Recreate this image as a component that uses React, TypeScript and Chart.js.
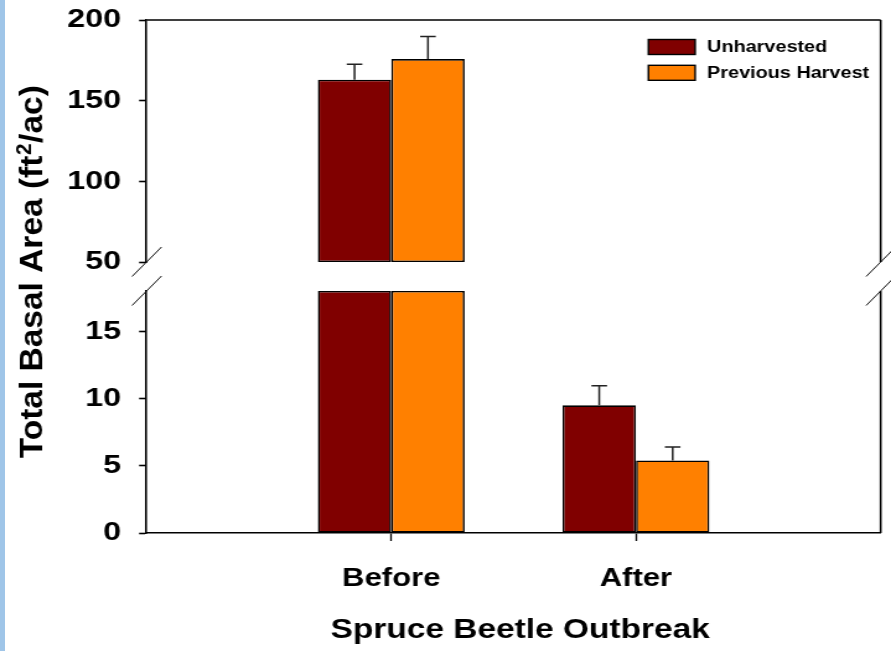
import React, { useEffect, useRef } from 'react';
import { Chart, registerables } from 'chart.js';

Chart.register(...registerables);

// ---------- data ----------
const categories = ['Before', 'After'];
const seriesNames = ['Unharvested', 'Previous Harvest'];
const unharvested = [163.0, 9.5];
const previousHarvest = [175.8, 5.4];
const unharvestedErr = [9.5, 1.45];
const previousHarvestErr = [13.9, 1.0];
const seriesColors = ['#800000', '#ff8000'];
const upperRange = [50, 200];
const upperStep = 50;
const lowerRange = [0, 18];
const lowerStep = 5;
const xTitle = 'Spruce Beetle Outbreak';
const yTitleParts = ['Total Basal Area (ft', '2', '/ac)'];

const seriesValues = [unharvested, previousHarvest];
const seriesErrors = [unharvestedErr, previousHarvestErr];

// ---------- layout ----------
const W = 891;
const H = 651;
const SX = 1.239; // drawing is stretched horizontally like the original
const IW = Math.round(W / SX);
const px = (x: number) => x / SX;
const FONT = '"Liberation Sans", Arial, Helvetica, sans-serif';
const LEFT = px(146.5);
const RIGHT = px(880.5);
const TOP_H = 280;
const UPPER_TOP = 20;
const UPPER_BOTTOM = 262;
const LOWER_TOP = 291;
const LOWER_BOTTOM = 533;

function makeDatasets(range: number[], upper: boolean) {
  return seriesNames.map((name, i) => ({
    label: name,
    data: categories.map((_, j) => {
      const v = seriesValues[i][j];
      let y: any = null;
      if (upper) {
        if (v > range[0]) y = [range[0], Math.min(v, range[1])];
      } else {
        y = [range[0], Math.min(v, range[1])];
      }
      return { x: j + 1, y };
    }),
    backgroundColor: seriesColors[i],
    borderColor: '#000',
    borderWidth: 1.6,
    borderSkipped: false,
    categoryPercentage: 0.6,
    barPercentage: 1,
    clip: false,
  }));
}

const zeroPadding = (s: any) => {
  s.paddingTop = 0;
  s.paddingBottom = 0;
  s.paddingLeft = 0;
  s.paddingRight = 0;
};

const errorBarsPlugin = {
  id: 'errorBars',
  afterDatasetsDraw(chart: any) {
    const ctx = chart.ctx;
    const yScale = chart.scales.y;
    ctx.save();
    ctx.strokeStyle = '#222';
    ctx.lineWidth = 1.5;
    chart.data.datasets.forEach((_: any, i: number) => {
      const meta = chart.getDatasetMeta(i);
      categories.forEach((__, j) => {
        const v = seriesValues[i][j];
        const e = seriesErrors[i][j];
        if (v < yScale.min || v > yScale.max) return;
        const el = meta.data[j];
        if (!el) return;
        const x = el.x;
        const y0 = yScale.getPixelForValue(v);
        const y1 = yScale.getPixelForValue(v + e);
        const half = px(7.8);
        ctx.beginPath();
        ctx.moveTo(x, y0);
        ctx.lineTo(x, y1);
        ctx.moveTo(x - half, y1);
        ctx.lineTo(x + half, y1);
        ctx.stroke();
      });
    });
    ctx.restore();
  },
};

const upperFramePlugin = {
  id: 'upperFrame',
  afterDraw(chart: any) {
    const ctx = chart.ctx;
    const a = chart.chartArea;
    ctx.save();
    ctx.strokeStyle = '#000';
    ctx.lineWidth = 1.6;
    ctx.beginPath();
    ctx.moveTo(a.left, a.top);
    ctx.lineTo(a.right, a.top);
    ctx.moveTo(a.right, a.top);
    ctx.lineTo(a.right, a.bottom);
    ctx.stroke();
    // legend
    const boxL = px(648.3);
    const boxR = px(695);
    const textX = px(707);
    chart.data.datasets.forEach((ds: any, i: number) => {
      const top = 39.5 + 25.8 * i;
      ctx.fillStyle = ds.backgroundColor;
      ctx.fillRect(boxL, top, boxR - boxL, 15);
      ctx.lineWidth = 1.4;
      ctx.strokeStyle = '#000';
      ctx.strokeRect(boxL, top, boxR - boxL, 15);
      ctx.fillStyle = '#000';
      ctx.font = `bold 16px ${FONT}`;
      ctx.textAlign = 'left';
      ctx.textBaseline = 'alphabetic';
      ctx.fillText(ds.label, textX, 52.3 + 25.6 * i);
    });
    ctx.restore();
  },
};

const lowerFramePlugin = {
  id: 'lowerFrame',
  afterDraw(chart: any) {
    const ctx = chart.ctx;
    const a = chart.chartArea;
    ctx.save();
    ctx.strokeStyle = '#000';
    ctx.lineWidth = 1.6;
    ctx.beginPath();
    ctx.moveTo(a.right, a.top);
    ctx.lineTo(a.right, a.bottom);
    ctx.stroke();
    // axis break marks
    ctx.lineWidth = 1;
    ctx.strokeStyle = '#111';
    [LEFT, RIGHT].forEach((X) => {
      [UPPER_BOTTOM, LOWER_TOP].forEach((Y) => {
        ctx.beginPath();
        ctx.moveTo(X - px(14.5), Y + 14.5);
        ctx.lineTo(X + px(15), Y - 15);
        ctx.stroke();
      });
    });
    // x title
    ctx.fillStyle = '#000';
    ctx.font = `bold 27px ${FONT}`;
    ctx.textAlign = 'center';
    ctx.textBaseline = 'alphabetic';
    ctx.fillText(xTitle, px(520), 637.7);
    // y title with superscript
    const big = `bold 26px ${FONT}`;
    const small = `bold 16px ${FONT}`;
    ctx.font = big;
    const w1 = ctx.measureText(yTitleParts[0]).width;
    const w3 = ctx.measureText(yTitleParts[2]).width;
    ctx.font = small;
    const w2 = ctx.measureText(yTitleParts[1]).width;
    const total = w1 + w2 + w3 + 1;
    const k = 373 / total;
    ctx.translate(px(41.7), 271.7);
    ctx.rotate(-Math.PI / 2);
    ctx.scale(k, 1);
    ctx.textAlign = 'left';
    let x = -total / 2;
    ctx.font = big;
    ctx.fillText(yTitleParts[0], x, 0);
    x += w1 + 0.5;
    ctx.font = small;
    ctx.fillText(yTitleParts[1], x, -8.5);
    x += w2 + 0.5;
    ctx.font = big;
    ctx.fillText(yTitleParts[2], x, 0);
    ctx.restore();
  },
};

const tickFont = { family: FONT, size: 26, weight: 'bold' as const };

export default function App() {
  const upperRef = useRef<HTMLCanvasElement | null>(null);
  const lowerRef = useRef<HTMLCanvasElement | null>(null);

  useEffect(() => {
    document.body.style.margin = '0';
    const upper = new Chart(upperRef.current as HTMLCanvasElement, {
      type: 'bar',
      data: { datasets: makeDatasets(upperRange, true) as any },
      options: {
        responsive: false,
        animation: false,
        devicePixelRatio: 1,
        layout: { padding: { left: 0, right: IW - RIGHT, top: UPPER_TOP, bottom: TOP_H - UPPER_BOTTOM } },
        plugins: { legend: { display: false }, tooltip: { enabled: false } },
        scales: {
          x: {
            type: 'linear',
            min: 0,
            max: 3,
            display: false,
            offset: false,
            ticks: { stepSize: 1 },
            grid: { offset: false },
            afterFit: zeroPadding,
          },
          y: {
            min: upperRange[0],
            max: upperRange[1],
            ticks: { stepSize: upperStep, includeBounds: false, color: '#000', font: tickFont, padding: 14.6 },
            grid: { drawOnChartArea: false, tickLength: 6, tickColor: '#000', tickWidth: 1.6 },
            border: { color: '#000', width: 1.6 },
            afterFit: (s: any) => { s.width = LEFT; zeroPadding(s); },
          },
        },
      } as any,
      plugins: [errorBarsPlugin, upperFramePlugin],
    });

    const lower = new Chart(lowerRef.current as HTMLCanvasElement, {
      type: 'bar',
      data: { datasets: makeDatasets(lowerRange, false) as any },
      options: {
        responsive: false,
        animation: false,
        devicePixelRatio: 1,
        layout: { padding: { left: 0, right: IW - RIGHT, top: LOWER_TOP, bottom: 0 } },
        plugins: { legend: { display: false }, tooltip: { enabled: false } },
        scales: {
          x: {
            type: 'linear',
            min: 0,
            max: 3,
            offset: false,
            ticks: {
              stepSize: 1,
              autoSkip: false,
              maxRotation: 0,
              color: '#000',
              font: { family: FONT, size: 25, weight: 'bold' },
              padding: 22.7,
              callback: (v: any) => categories[Number(v) - 1] ?? '',
            },
            grid: {
              offset: false,
              drawOnChartArea: false,
              tickLength: 8,
              tickWidth: 1.3,
              tickColor: (c: any) => (c.tick && (c.tick.value === 1 || c.tick.value === 2) ? '#000' : 'rgba(0,0,0,0)'),
            },
            border: { color: '#000', width: 1.6 },
            afterFit: (s: any) => { s.height = H - LOWER_BOTTOM; zeroPadding(s); },
          },
          y: {
            min: lowerRange[0],
            max: lowerRange[1],
            ticks: { stepSize: lowerStep, includeBounds: false, color: '#000', font: tickFont, padding: 14.6 },
            grid: { drawOnChartArea: false, tickLength: 6, tickColor: '#000', tickWidth: 1.6 },
            border: { color: '#000', width: 1.6 },
            afterFit: (s: any) => { s.width = LEFT; zeroPadding(s); },
          },
        },
      } as any,
      plugins: [errorBarsPlugin, lowerFramePlugin],
    });

    return () => {
      upper.destroy();
      lower.destroy();
    };
  }, []);

  return (
    <div style={{ position: 'absolute', left: 0, top: 0, width: W, height: H, background: '#fff', overflow: 'hidden' }}>
      <div style={{ position: 'absolute', left: 0, top: 0, width: 5, height: H, background: '#9fc5e8' }} />
      <canvas
        ref={lowerRef}
        width={IW}
        height={H}
        style={{ position: 'absolute', left: 0, top: 0, width: `${W}px`, height: `${H}px` }}
      />
      <canvas
        ref={upperRef}
        width={IW}
        height={TOP_H}
        style={{ position: 'absolute', left: 0, top: 0, width: `${W}px`, height: `${TOP_H}px` }}
      />
    </div>
  );
}
